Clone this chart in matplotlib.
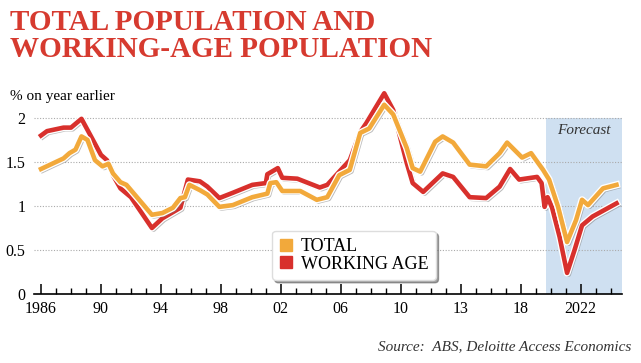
import numpy as np
import matplotlib
matplotlib.use("Agg")
import matplotlib.pyplot as plt
import matplotlib.patheffects as pe
from matplotlib.ticker import MultipleLocator

# total population growth, % on year earlier
total_years = [1986.0, 1987.5, 1987.9, 1988.3, 1988.7, 1989.1, 1989.6, 1990.1, 1990.5,
               1990.8, 1991.3, 1991.7, 1993.4, 1994.1, 1994.8, 1995.3, 1995.6, 1995.9,
               1996.6, 1997.1, 1997.9, 1998.8, 2000.1, 2001.1, 2001.3, 2001.7, 2002.1,
               2003.3, 2004.4, 2005.1, 2005.9, 2006.6, 2007.3, 2007.9, 2008.9, 2009.5,
               2010.4, 2010.8, 2011.3, 2012.3, 2012.8, 2013.5, 2014.6, 2015.7, 2016.6,
               2017.1, 2018.1, 2018.7, 2019.5, 2019.9, 2020.5, 2021.1, 2021.7, 2022.1,
               2022.5, 2023.5, 2024.4]
total_vals = [1.42, 1.54, 1.60, 1.64, 1.79, 1.75, 1.52, 1.45, 1.48,
              1.37, 1.27, 1.24, 0.90, 0.92, 0.98, 1.09, 1.10, 1.24,
              1.18, 1.13, 0.99, 1.01, 1.10, 1.14, 1.26, 1.27, 1.17,
              1.17, 1.07, 1.10, 1.35, 1.41, 1.83, 1.88, 2.15, 2.04,
              1.66, 1.43, 1.39, 1.73, 1.79, 1.72, 1.47, 1.45, 1.60,
              1.72, 1.55, 1.60, 1.41, 1.30, 0.99, 0.59, 0.84, 1.07,
              1.01, 1.20, 1.24]

# working-age population growth
work_years = [1986.0, 1986.4, 1987.5, 1988.0, 1988.7, 1989.4, 1990.0, 1990.4, 1990.8,
              1991.3, 1992.0, 1993.4, 1994.1, 1995.3, 1995.8, 1996.6, 1997.1, 1997.9,
              1998.8, 2000.1, 2001.0, 2001.1, 2001.8, 2002.1, 2003.1, 2004.6, 2005.1,
              2005.9, 2006.6, 2007.3, 2007.7, 2008.9, 2009.5, 2010.4, 2010.8, 2011.5,
              2012.8, 2013.5, 2014.6, 2015.7, 2016.6, 2017.3, 2017.9, 2019.1, 2019.4,
              2019.6, 2019.8, 2020.1, 2020.6, 2021.1, 2021.6, 2022.1, 2022.8, 2024.4]
work_vals = [1.80, 1.85, 1.89, 1.89, 1.99, 1.77, 1.58, 1.52, 1.35,
             1.20, 1.10, 0.75, 0.86, 0.98, 1.30, 1.28, 1.22, 1.09,
             1.15, 1.24, 1.26, 1.36, 1.43, 1.32, 1.31, 1.21, 1.24,
             1.39, 1.52, 1.84, 1.94, 2.28, 2.09, 1.49, 1.26, 1.16,
             1.37, 1.33, 1.10, 1.09, 1.22, 1.42, 1.30, 1.33, 1.26,
             0.99, 1.10, 0.98, 0.65, 0.24, 0.50, 0.78, 0.88, 1.03]

yticks = [0, 0.5, 1, 1.5, 2]
ytick_labels = ["0", "0.5", "1", "1.5", "2"]
xticks = [1986, 1990, 1994, 1998, 2002, 2006, 2010, 2014, 2018, 2022]
xtick_labels = ["1986", "90", "94", "98", "02", "06", "10", "13", "18", "2022"]
forecast_start, forecast_end = 2019.7, 2024.75

ORANGE = "#f2a93b"
RED = "#d8302c"
TITLE_RED = "#d63a2f"
SHADE = "#cfe0f1"
serif = "Liberation Serif"

fig = plt.figure(figsize=(6.41, 3.63), dpi=100)
ax = fig.add_axes([0.0523, 0.190, 0.9177, 0.570])
ax.set_xlim(1985.5, 2024.75)
ax.set_ylim(0, 2.35)

ax.fill_between([forecast_start, forecast_end], 0, 2.0, color=SHADE, zorder=0, lw=0)
ax.text(2022.2, 1.86, "Forecast", family=serif, style="italic", fontsize=11,
        ha="center", va="center", color="#333333")

for y in yticks[1:]:
    ax.axhline(y, color="#aaaaaa", lw=0.8, ls=(0, (1, 1.5)), zorder=1)

shadow = [pe.SimpleLineShadow(offset=(1.2, -1.2), shadow_color="#777777", alpha=0.5),
          pe.Stroke(linewidth=5.2, foreground="white"), pe.Normal()]
ax.plot(work_years, work_vals, color=RED, lw=3.3, solid_joinstyle="round",
        path_effects=shadow, zorder=3)
ax.plot(total_years, total_vals, color=ORANGE, lw=3.3, solid_joinstyle="round",
        path_effects=shadow, zorder=4)

for s in ["top", "right", "left"]:
    ax.spines[s].set_visible(False)
ax.spines["bottom"].set_linewidth(1.2)
ax.set_xticks(xticks)
ax.set_xticklabels(xtick_labels, family=serif, fontsize=11.5)
ax.xaxis.set_minor_locator(MultipleLocator(1))
ax.tick_params(axis="x", which="major", direction="in", length=7, width=1.1, pad=5)
ax.tick_params(axis="x", which="minor", direction="in", length=4, width=1.0)
ax.set_yticks(yticks)
ax.set_yticklabels(ytick_labels, family=serif, fontsize=11.5)
ax.tick_params(axis="y", length=0, pad=6)

# legend
h1 = plt.Line2D([], [], marker="s", ls="", color=ORANGE, markersize=9)
h2 = plt.Line2D([], [], marker="s", ls="", color=RED, markersize=9)
leg = ax.legend([h1, h2], ["TOTAL", "WORKING AGE"], loc="upper left",
                bbox_to_anchor=(0.39, 0.35), prop={"family": serif, "size": 13},
                handlelength=0.8, handletextpad=0.4, labelspacing=0.05,
                borderpad=0.4, fancybox=True, shadow=True, framealpha=1,
                edgecolor="#dddddd")
leg.set_zorder(5)

fig.text(0.016, 0.975, "TOTAL POPULATION AND\nWORKING-AGE POPULATION", family=serif,
         weight="bold", fontsize=21, color=TITLE_RED, va="top", ha="left",
         linespacing=1.0)
fig.text(0.016, 0.735, "% on year earlier", family=serif, fontsize=11, va="center")
fig.text(0.985, 0.045, "Source:  ABS, Deloitte Access Economics", family=serif,
         style="italic", fontsize=11, ha="right", va="center", color="#333333")

fig.savefig("out.png", dpi=100)
